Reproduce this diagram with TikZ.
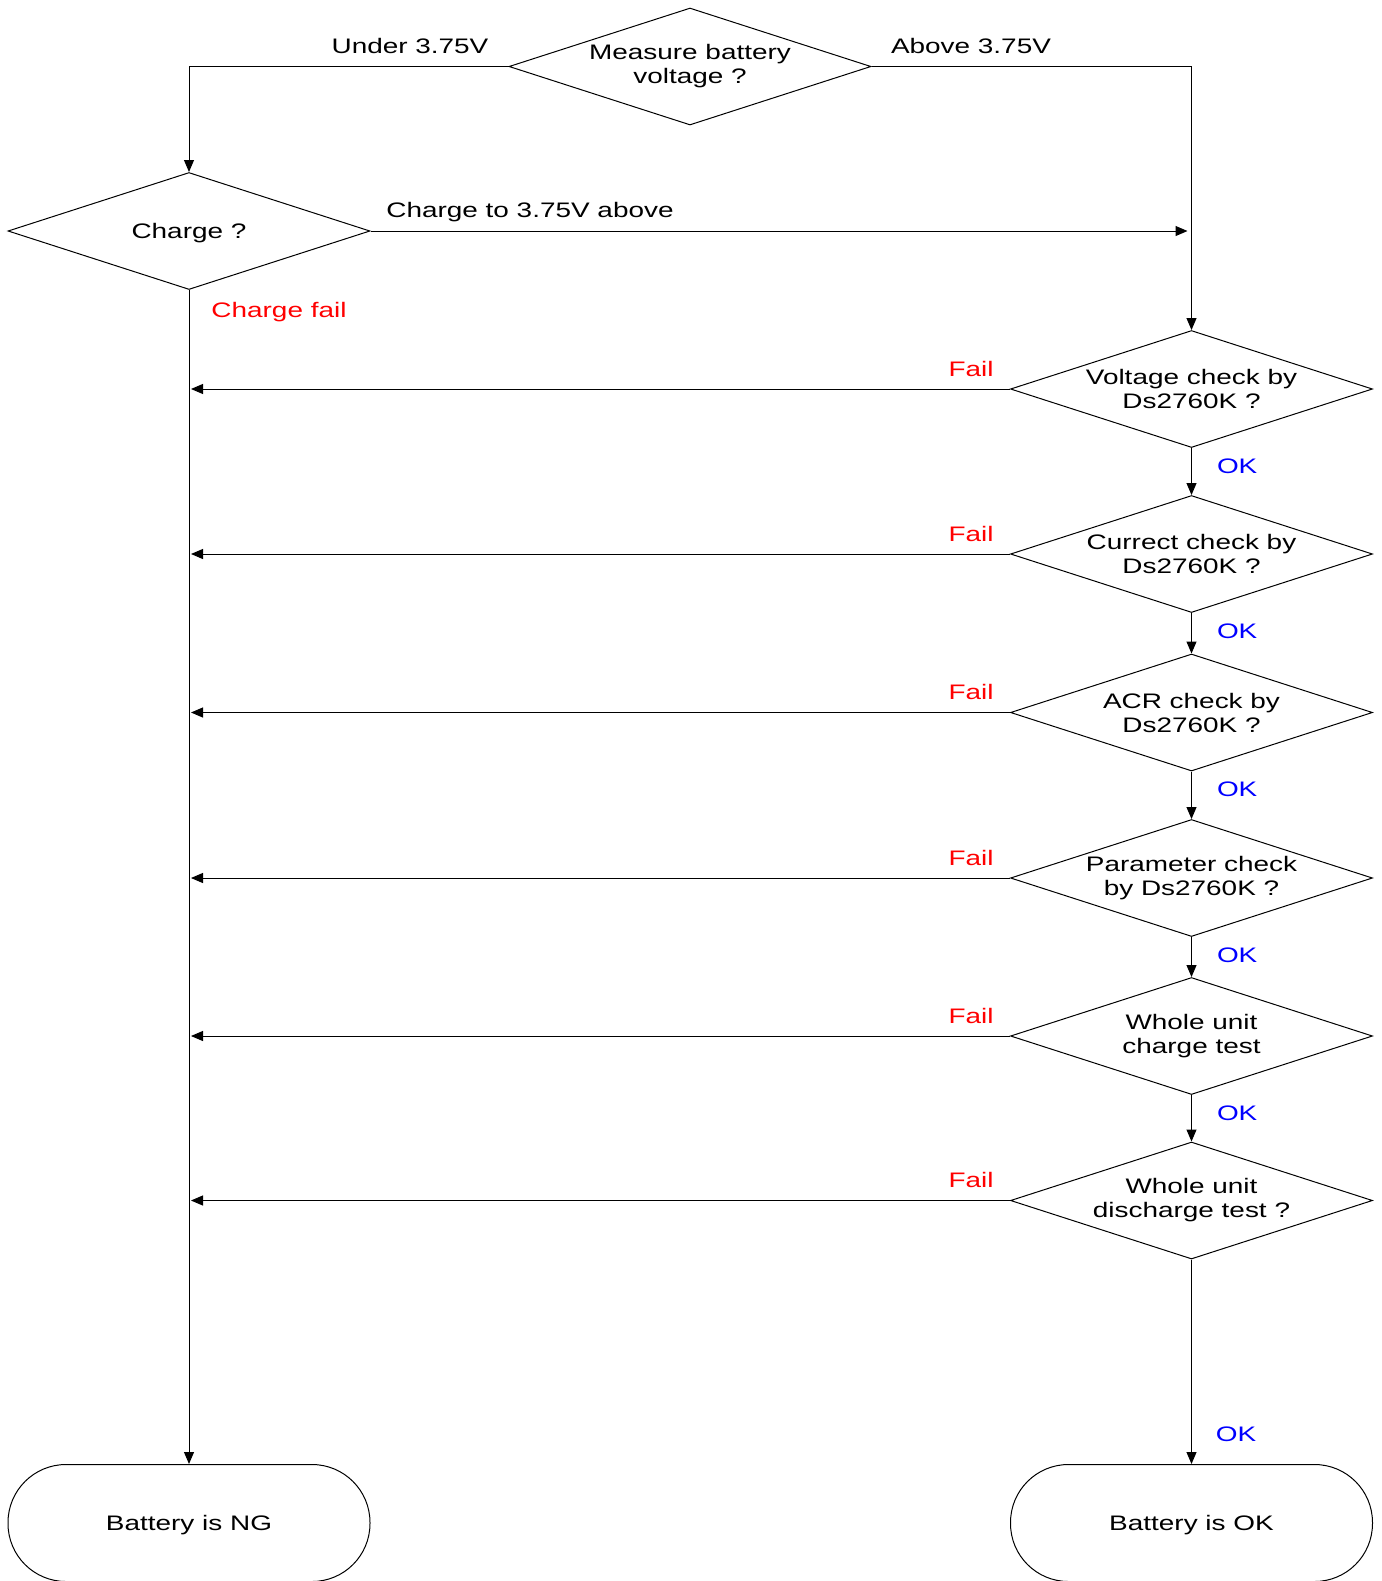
\documentclass[tikz,border=0pt]{standalone}
\usepackage{fontspec}
\setmainfont[FakeStretch=1.33]{Liberation Sans}
\usetikzlibrary{arrows.meta}
\usetikzlibrary{shapes.geometric}
\usetikzlibrary{positioning}
\newcommand{\flowfont}{\fontsize{10.5}{12}\selectfont}
\tikzset{
  decision/.style={draw, shape=diamond, aspect=3.09, inner sep=-12pt, minimum width=181pt,
    minimum height=58.5pt, align=center, font=\flowfont},
  terminal/.style={draw, rectangle, rounded corners=29pt, minimum width=181pt,
    minimum height=58.5pt, text depth=0pt, font=\flowfont},
  lbl/.style={inner sep=0pt, font=\flowfont},
  fail/.style={lbl, text=red},
  okay/.style={lbl, text=blue},
  flow/.style={->, line width=0.5pt},
  >={Triangle[length=6pt,width=5pt]}
}
\begin{document}
\begin{tikzpicture}[x=0.5pt, y=-0.5pt, line width=0.5pt]
    \useasboundingbox (0,0) rectangle (1382,1581);
    % decisions
    \node[decision] (meas) at (690,66.5) {Measure battery\\voltage ?};
    \node[decision, text depth=0pt] (chg) at (189,231) {Charge ?};
    \node[decision] (vchk) at (1191.5,389) {Voltage check by\\Ds2760K ?};
    \node[decision] (cchk) at (1191.5,554) {Currect check by\\Ds2760K ?};
    \node[decision] (achk) at (1191.5,712.5) {ACR check by\\Ds2760K ?};
    \node[decision] (pchk) at (1191.5,878) {Parameter check\\by Ds2760K ?};
    \node[decision] (ctst) at (1191.5,1036) {Whole unit\\charge test};
    \node[decision] (dtst) at (1191.5,1200.5) {Whole unit\\discharge test ?};
    % end states
    \node[terminal] (ng) at (189,1523) {Battery is NG};
    \node[terminal] (ok) at (1191.5,1523) {Battery is OK};

    % top branches
    \draw[flow] (meas.west) -| (chg.north);
    \draw[flow] (meas.east) -| (vchk.north);
    \node[lbl] at (410,45.5) {Under 3.75V};
    \node[lbl] at (971,45.5) {Above 3.75V};
    \draw[flow, shorten >=2pt] (chg.east) -- (chg.east -| vchk.north);
    \node[lbl] at (530,212) {Charge to 3.75V above};
    \draw[flow] (chg.south) -- (ng.north);
    \node[fail] at (279,312) {Charge fail};

    % fail branches
    \foreach \d in {vchk,cchk,achk,pchk,ctst,dtst}{
      \draw[flow, shorten >=1pt] (\d.west) -- (\d.west -| chg.south);
      \node[fail, above=6pt of \d.west, xshift=-19.5pt] {Fail};
    }

    % ok branches
    \foreach \a/\b in {vchk/cchk,cchk/achk,achk/pchk,pchk/ctst,ctst/dtst}{
      \draw[flow] (\a.south) -- (\b.north);
      \node[okay, below right=5pt and 12.5pt of \a.south] {OK};
    }
    \draw[flow] (dtst.south) -- (ok.north);
    \node[okay] at (1236,1434) {OK};
\end{tikzpicture}
\end{document}
